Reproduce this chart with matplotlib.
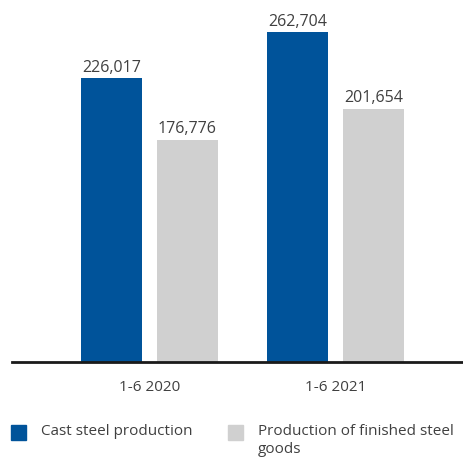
import matplotlib.pyplot as plt
from matplotlib.patches import Rectangle
import numpy as np

# data
periods = ["1-6 2020", "1-6 2021"]
cast_steel = [226017, 262704]
finished_goods = [176776, 201654]
series_names = ["Cast steel production", "Production of finished steel\ngoods"]

blue = "#00539a"
grey = "#d0d0d0"
txt = "#404040"

plt.rcParams['font.family'] = ['Open Sans', 'DejaVu Sans']

W, H = 463, 462
fig = plt.figure(figsize=(W / 100, H / 100), dpi=100)
ax = fig.add_axes([12 / W, (H - 362) / H, 1 - 12 / W, 362 / H])

x = np.arange(len(periods))
bw = 0.328
off = 0.204
b1 = ax.bar(x - off, cast_steel, bw, color=blue)
b2 = ax.bar(x + off, finished_goods, bw, color=grey)

for bars in (b1, b2):
    for r in bars:
        v = r.get_height()
        ax.annotate(f"{v:,.0f}", (r.get_x() + r.get_width() / 2, v),
                    xytext=(0, 2), textcoords="offset points",
                    ha="center", va="bottom", fontsize=11.5, color=txt)

ax.set_xlim(-0.739, 1.685)
ax.set_ylim(0, 288500)
ax.set_xticks(x)
ax.set_xticklabels(periods, fontsize=11, color=txt)
ax.tick_params(axis="x", length=0, pad=13)
ax.set_yticks([])
for s in ["top", "right", "left"]:
    ax.spines[s].set_visible(False)
ax.spines["bottom"].set_linewidth(2)
ax.spines["bottom"].set_color("#1a1a1a")

# legend drawn by hand (square + label)
for (lx, tx), col, name in zip([(11, 41), (228, 258)], [blue, grey], series_names):
    fig.patches.append(Rectangle((lx / W, (H - 440) / H), 15 / W, 15 / H,
                                 transform=fig.transFigure, color=col))
    fig.text(tx / W, (H - 424) / H, name, fontsize=11, color=txt,
             va="top", linespacing=1.25)

fig.savefig("out.png", dpi=100)
